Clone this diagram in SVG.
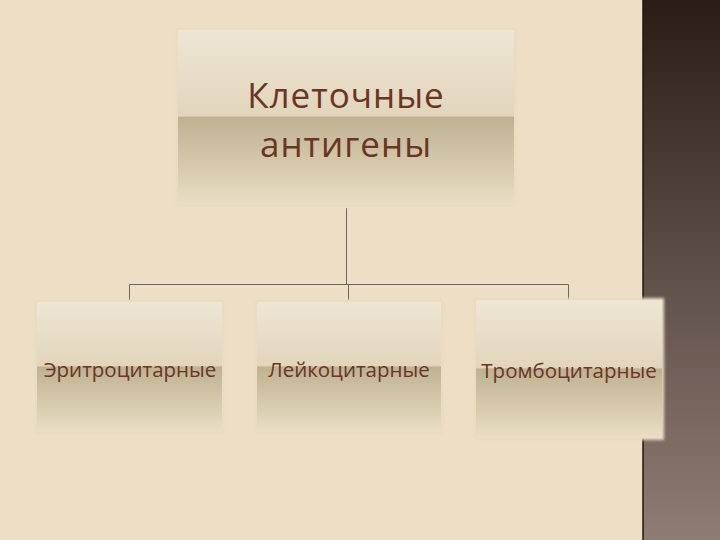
<svg xmlns="http://www.w3.org/2000/svg" width="720" height="540" viewBox="0 0 720 540">
<defs>
<linearGradient id="strip" x1="0" y1="0" x2="0" y2="1">
<stop offset="0" stop-color="#2a1d17"/>
<stop offset="0.5" stop-color="#5e4f48"/>
<stop offset="1" stop-color="#8e7d75"/>
</linearGradient>
<linearGradient id="box" x1="0" y1="0" x2="0" y2="1">
<stop offset="0" stop-color="#eee6d4"/>
<stop offset="0.49" stop-color="#e2d5bc"/>
<stop offset="0.5" stop-color="#bfb293"/>
<stop offset="0.75" stop-color="#d4c8a9"/>
<stop offset="1" stop-color="#eadec5"/>
</linearGradient>
<filter id="soft" x="-5%" y="-5%" width="110%" height="110%">
<feGaussianBlur stdDeviation="1.5"/>
</filter>
</defs>
<style>
.bg{fill:#ecdfc6}
.box{fill:url(#box)}
.glow{fill:#e8dbc1;filter:url(#soft)}
.lbl{font-family:"Open Sans","DejaVu Sans",sans-serif;fill:#6a3524;text-anchor:middle}
.big{font-size:35px;letter-spacing:1px}
.small{font-size:20.5px}
.conn{stroke:#6e665e;stroke-width:1;fill:none}
</style>
<rect class="bg" x="0" y="0" width="720" height="540"/>
<rect x="643" y="0" width="77" height="540" fill="url(#strip)"/>
<line x1="643" y1="0" x2="643" y2="540" stroke="#1f1712" stroke-width="1.5"/>
<g id="connectors">
<path class="conn" d="M346.5 208 V284.5 M129.5 284.5 H568.5 M129.5 284.5 V300 M348.5 284.5 V300 M568.5 284.5 V300"/>
</g>
<g id="root">
<rect class="glow" x="176" y="28" width="340" height="179"/>
<rect class="box" x="178" y="30" width="336" height="175"/>
<text class="lbl big" x="346" y="108">Клеточные</text>
<text class="lbl big" x="346" y="157">антигены</text>
</g>
<g id="n1">
<rect class="glow" x="35" y="300" width="189" height="134"/>
<rect class="box" x="37" y="302" width="185" height="130"/>
<text class="lbl small" x="130" y="377">Эритроцитарные</text>
</g>
<g id="n2">
<rect class="glow" x="255" y="300" width="188" height="134"/>
<rect class="box" x="257" y="302" width="184" height="130"/>
<text class="lbl small" x="349" y="377">Лейкоцитарные</text>
</g>
<g id="n3">
<rect class="glow" x="474" y="298" width="190" height="142"/>
<rect class="box" x="476" y="300" width="186" height="138"/>
<text class="lbl small" x="569" y="378">Тромбоцитарные</text>
</g>
</svg>
